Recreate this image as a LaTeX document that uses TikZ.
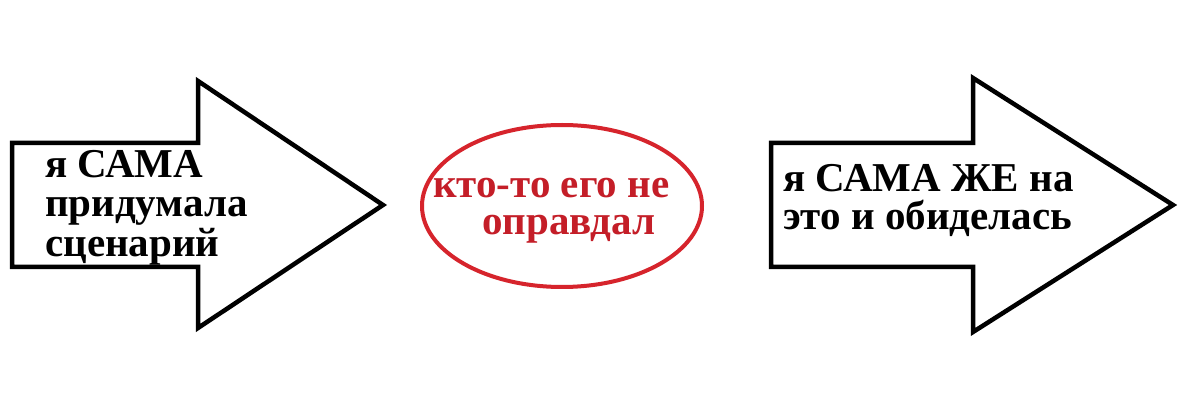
\documentclass[tikz,border=0pt]{standalone}
\usepackage{fontspec}
\setmainfont{Liberation Serif}
\usepackage{color}
\definecolor{ovalred}{RGB}{214,36,44}
\definecolor{textred}{RGB}{196,30,40}

\begin{document}
\begin{tikzpicture}[x=1pt,y=-1pt]
\tikzset{label text/.style={anchor=base west, inner sep=0pt, font=\fontsize{41}{48}\selectfont\bfseries}}
\useasboundingbox [fill=white] (0,0) rectangle (1200,414);
\draw [line width=4.5pt, line join=miter] (12,143) -- (198,143) -- (198,81) -- (383,205) -- (198,328) -- (198,267) -- (12,267) -- cycle;
\draw [line width=4.5pt, line join=miter] (771,143) -- (973,143) -- (973,78) -- (1173,205) -- (973,332) -- (973,267) -- (771,267) -- cycle;
\draw [line width=4pt, ovalred] (562,206) ellipse [x radius=140, y radius=81];
\node (left1) [label text] at (45,178) {я САМА};
\node (left2) [label text] at (45,217) {придумала};
\node (left3) [label text] at (45,257) {сценарий};
\node (mid1) [label text, textred] at (433,198) {кто-то его не};
\node (mid2) [label text, textred] at (482,235) {оправдал};
\node (right1) [label text] at (783,192) {я САМА ЖЕ на};
\node (right2) [label text] at (783,230) {это и обиделась};
\end{tikzpicture}
\end{document}
